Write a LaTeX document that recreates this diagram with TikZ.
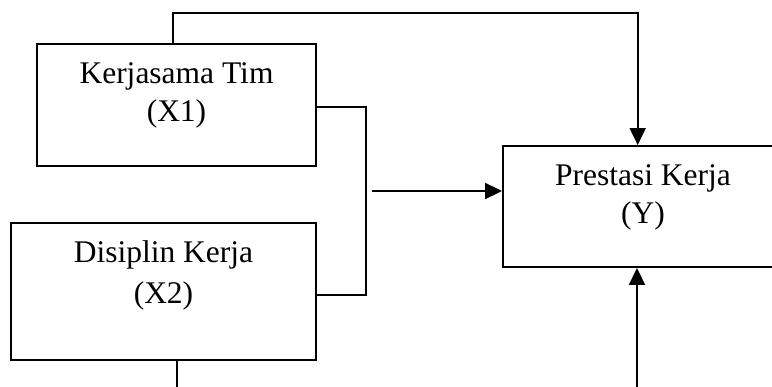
\documentclass[tikz,border=0pt]{standalone}
\usepackage{fontspec}
\setmainfont{Liberation Serif}
\usetikzlibrary{arrows.meta}
\begin{document}
\begin{tikzpicture}[x=1pt,y=-1pt,
  box/.style={draw=black,line width=1.9pt,rectangle,inner sep=0pt},
  lbl/.style={anchor=base,inner sep=0pt,font=\fontsize{31.5}{38}\selectfont},
  conn/.style={draw=black,line width=1.9pt},
  arr/.style={conn,-{Triangle[length=17pt,width=16pt]}}]
\useasboundingbox (0,0) rectangle (772,387);
\clip (0,0) rectangle (772,387);
\fill[white] (0,0) rectangle (772,387);
% boxes
\node[box,minimum width=279pt,minimum height=122pt] (box1) at (176.5,105) {};
\node[box,minimum width=305pt,minimum height=137pt] (box2) at (163.5,291.5) {};
\node[box,minimum width=280pt,minimum height=121pt] (boxY) at (643,206.5) {};
% labels
\node[lbl] (t1a) at (176.5,83.3) {Kerjasama Tim};
\node[lbl] (t1b) at (176.5,121.7) {(X1)};
\node[lbl] (t2a) at (163.5,262.7) {Disiplin Kerja};
\node[lbl] (t2b) at (163.5,303.3) {(X2)};
\node[lbl] (tYa) at (643,185.7) {Prestasi Kerja};
\node[lbl] (tYb) at (643,223.5) {(Y)};
% helper coordinates
\coordinate (topL) at (173,12.7);
\coordinate (topR) at (637.7,12.7);
\coordinate (br1) at (366,107);
\coordinate (br2) at (366,295);
\coordinate (arrS) at (366,191);
\coordinate (botL) at (177,400);
\coordinate (botR) at (637,400);
% connectors
\draw[arr] (box1.north -| topL) -- (topL) -- (topR) -- (topR |- boxY.north);
\draw[conn] (box1.east |- br1) -- (br1) -- (br2) -- (box2.east |- br2);
\draw[arr] ([xshift=6pt]arrS) -- (arrS -| boxY.west);
\draw[arr] (box2.south -| botL) -- (botL) -- (botR) -- (botR |- boxY.south);
\end{tikzpicture}
\end{document}
